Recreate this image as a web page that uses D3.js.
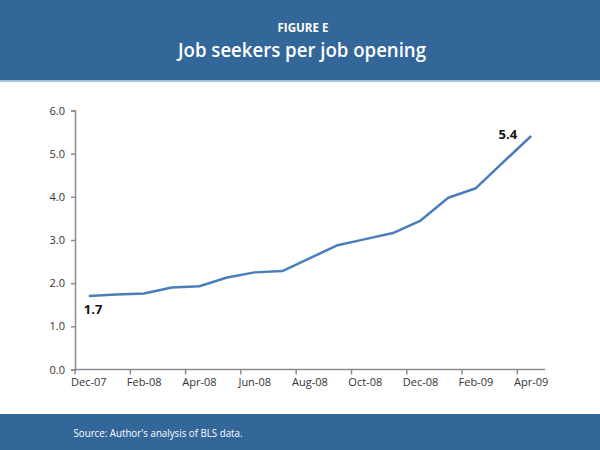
<!DOCTYPE html>
<html><head><meta charset="utf-8">
<script src="https://cdn.jsdelivr.net/npm/d3@7"></script>
<style>body{margin:0;background:#fff}svg{display:block}</style>
</head><body><svg id="c" width="600" height="450"></svg>
<script>
const months = ["Dec-07","Jan-08","Feb-08","Mar-08","Apr-08","May-08","Jun-08","Jul-08","Aug-08","Sep-08","Oct-08","Nov-08","Dec-08","Jan-09","Feb-09","Mar-09","Apr-09"];
const values = [1.70,1.74,1.76,1.90,1.93,2.13,2.25,2.28,2.58,2.88,3.02,3.16,3.45,3.98,4.20,4.81,5.41];
const yTicks = [0,1,2,3,4,5,6];
const labelIdx = [0,16];
const labelText = ["1.7","5.4"];

const svg = d3.select("#c");
const blue = "#336699";
svg.append("rect").attr("x",0).attr("y",0).attr("width",600).attr("height",80).attr("fill",blue);
svg.append("rect").attr("x",0).attr("y",80).attr("width",600).attr("height",2).attr("fill","#a8c1db");
svg.append("rect").attr("x",0).attr("y",414).attr("width",600).attr("height",36).attr("fill",blue);

svg.append("text").attr("x",303).attr("y",32).attr("text-anchor","middle")
  .attr("fill","#fff").attr("font-family","Open Sans").attr("font-weight",700)
  .attr("font-size",11.5).attr("textLength",51).attr("lengthAdjust","spacingAndGlyphs").text("FIGURE E");
svg.append("text").attr("x",302).attr("y",57).attr("text-anchor","middle")
  .attr("fill","#fff").attr("font-family","Open Sans").attr("font-weight",600)
  .attr("font-size",20).attr("textLength",248).attr("lengthAdjust","spacingAndGlyphs").text("Job seekers per job opening");
svg.append("text").attr("x",73.5).attr("y",437)
  .attr("fill","#fff").attr("font-family","Open Sans")
  .attr("font-size",11).attr("textLength",169).attr("lengthAdjust","spacingAndGlyphs").text("Source: Author's analysis of BLS data.");

const x0 = 75, x1 = 545, yTop = 110.5, yBot = 369.5;
const x = d3.scaleBand().domain(months).range([x0,x1]).padding(0);
const y = d3.scaleLinear().domain([0,6]).range([yBot,yTop]);
const axisColor = "#8c8c8c";

const gy = svg.append("g").attr("transform",`translate(${x0},0)`)
  .call(d3.axisLeft(y).tickValues(yTicks).tickFormat(d3.format(".1f")).tickSize(4).tickPadding(6));
const gx = svg.append("g").attr("transform",`translate(0,${yBot})`)
  .call(d3.axisBottom(x).tickValues(months.filter((d,i)=>i%2===0)).tickSize(0).tickPadding(9));
const bounds = d3.range(0,18,2).map(i=>x0 + i*x.step());
svg.append("g").selectAll("line").data(bounds).join("line")
  .attr("x1",d=>d).attr("x2",d=>d).attr("y1",yBot).attr("y2",yBot+5)
  .attr("stroke",axisColor).attr("stroke-width",1.5);
[gx,gy].forEach(g=>{
  g.select(".domain").attr("stroke",axisColor).attr("stroke-width",1.5);
  g.selectAll(".tick line").attr("stroke",axisColor).attr("stroke-width",1.5);
  g.selectAll("text").attr("fill","#333").attr("font-family","Open Sans").attr("font-size",11);
});
gx.select(".domain").attr("d",`M${x0},0H${x1}`);

const line = d3.line().x((d,i)=>x(months[i])+x.bandwidth()/2).y(d=>y(d));
svg.append("path").datum(values).attr("d",line).attr("fill","none")
  .attr("stroke","#4a7ebb").attr("stroke-width",2.5).attr("stroke-linejoin","round");

const lbl = [
  {i:labelIdx[0], t:labelText[0], dx:-5, dy:18, anchor:"start"},
  {i:labelIdx[1], t:labelText[1], dx:-14, dy:3, anchor:"end"}
];
svg.append("g").selectAll("text").data(lbl).join("text")
  .attr("x",d=>x(months[d.i])+x.bandwidth()/2+d.dx)
  .attr("y",d=>y(values[d.i])+d.dy)
  .attr("text-anchor",d=>d.anchor)
  .attr("font-family","Open Sans").attr("font-weight",700).attr("font-size",13).attr("fill","#111")
  .text(d=>d.t);
</script></body></html>
